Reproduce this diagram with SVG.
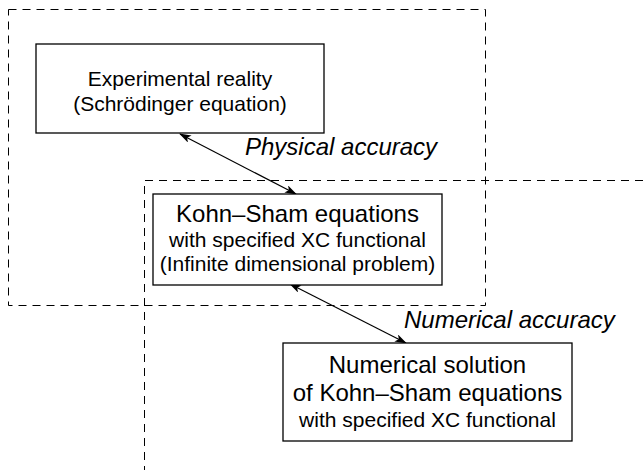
<svg xmlns="http://www.w3.org/2000/svg" width="643" height="475" viewBox="0 0 643 475">
<style>
.dash{fill:none;stroke:#000;stroke-width:1;stroke-dasharray:8,6}
.box{fill:#fff;stroke:#000;stroke-width:1.3}
.t{font-family:"Liberation Sans",Arial,sans-serif;fill:#000;text-anchor:middle}
.lbl{font-family:"Liberation Sans",Arial,sans-serif;font-style:italic;fill:#000;font-size:24px}
.conn{stroke:#000;stroke-width:1.2;fill:none;marker-start:url(#ah);marker-end:url(#ah)}
</style>
<defs>
<marker id="ah" viewBox="0 0 12 8" refX="11" refY="4" markerWidth="12" markerHeight="8" markerUnits="userSpaceOnUse" orient="auto-start-reverse">
<path d="M0,0 L12,4 L0,8 L3,4 z" fill="#000"/>
</marker>
</defs>
<g id="region-physical">
<rect class="dash" x="8.5" y="9.5" width="477" height="296"/>
</g>
<g id="region-numerical">
<path class="dash" d="M643,180.5 H144.5 V470"/>
</g>
<g id="connectors">
<line class="conn" x1="180" y1="134" x2="296" y2="194"/>
<line class="conn" x1="290" y1="284" x2="406" y2="343"/>
</g>
<g id="node-experimental">
<rect class="box" x="36" y="44" width="288" height="89"/>
<text class="t" font-size="21" x="180" y="86">Experimental reality</text>
<text class="t" font-size="21" x="180" y="111">(Schrödinger equation)</text>
</g>
<g id="node-kohnsham">
<rect class="box" x="153" y="194" width="289" height="91"/>
<text class="t" font-size="24" x="297.5" y="222">Kohn–Sham equations</text>
<text class="t" font-size="21" x="297.5" y="247">with specified XC functional</text>
<text class="t" font-size="21" x="297.5" y="271">(Infinite dimensional problem)</text>
</g>
<g id="node-numerical">
<rect class="box" x="283" y="343" width="289" height="98"/>
<text class="t" font-size="24" x="427.5" y="373">Numerical solution</text>
<text class="t" font-size="24" x="427.5" y="401">of Kohn–Sham equations</text>
<text class="t" font-size="21" x="427.5" y="427">with specified XC functional</text>
</g>
<g id="labels">
<text class="lbl" x="245" y="155">Physical accuracy</text>
<text class="lbl" x="404" y="328">Numerical accuracy</text>
</g>
</svg>
